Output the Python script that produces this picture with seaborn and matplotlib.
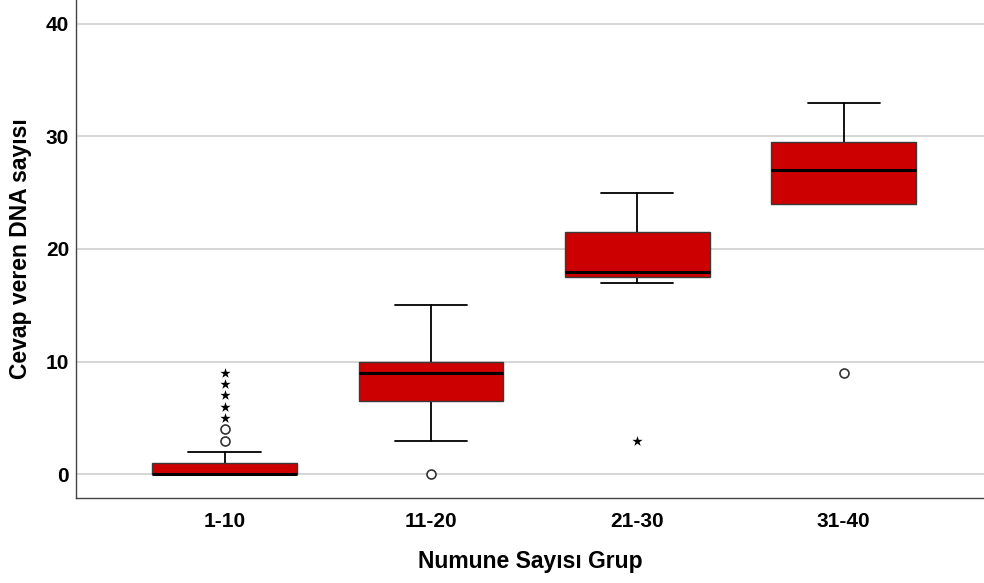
import matplotlib
matplotlib.use("Agg")
import matplotlib.pyplot as plt
import seaborn as sns
import numpy as np

groups = ["1-10", "11-20", "21-30", "31-40"]
q1 = [0, 6.5, 17.5, 24]
med = [0, 9, 18, 27]
q3 = [1, 10, 21.5, 29.5]
wlo = [0, 3, 17, 24]
whi = [2, 15, 25, 33]
# outliers (circles) and extremes (stars): (group index, value)
circ_g = [0, 0, 1, 3]
circ_v = [3, 4, 0, 9]
star_g = [0, 0, 0, 0, 0, 2]
star_v = [5, 6, 7, 8, 9, 3]

sns.set_theme(style="white")
plt.rcParams['font.family'] = ['Liberation Sans', 'DejaVu Sans']
plt.rcParams['text.color'] = 'black'
plt.rcParams['axes.labelcolor'] = 'black'
plt.rcParams['xtick.color'] = 'black'
plt.rcParams['ytick.color'] = 'black'

fig = plt.figure(figsize=(9.84, 5.83), dpi=100)
ax = fig.add_axes([76/984, 1-498/583, 1-76/984, 498/583])

stats = []
for i, g in enumerate(groups):
    stats.append(dict(label=g, q1=q1[i], med=med[i], q3=q3[i],
                      whislo=wlo[i], whishi=whi[i], fliers=[]))

ax.bxp(stats, positions=range(len(groups)), widths=0.70, patch_artist=True,
       showfliers=False,
       boxprops=dict(facecolor="#CC0000", edgecolor="#3a3a3a", linewidth=1.0, zorder=3),
       medianprops=dict(color="black", linewidth=2.2, zorder=4),
       whiskerprops=dict(color="black", linewidth=1.3, zorder=2),
       capprops=dict(color="black", linewidth=1.3, zorder=2),
       capwidths=0.35)

ax.scatter(circ_g, circ_v, s=42, facecolors="white", edgecolors="#333333",
           linewidths=1.2, zorder=5)
ax.scatter(star_g, star_v, s=60, marker="*", color="black", linewidths=0, zorder=5)

ax.set_xlim(-0.72, 3.68)
ax.set_ylim(-2.1, 42.1)
ax.set_yticks([0, 10, 20, 30, 40])
ax.set_xticks(range(len(groups)))
ax.set_xticklabels(groups)
ax.yaxis.grid(True, color="#d0d0d0", linewidth=1.2, zorder=0)
ax.xaxis.grid(False)
ax.set_axisbelow(True)
for s in ["top", "right"]:
    ax.spines[s].set_visible(False)
for s in ["left", "bottom"]:
    ax.spines[s].set_color("#444444")
    ax.spines[s].set_linewidth(1.0)
ax.tick_params(axis="both", length=0, labelsize=15)
ax.tick_params(axis="y", pad=5)
ax.tick_params(axis="x", pad=10)
for lbl in ax.get_xticklabels() + ax.get_yticklabels():
    lbl.set_fontweight("bold")
ax.set_xlabel("Numune Sayısı Grup", fontsize=16.5, fontweight="bold", labelpad=14)
ax.set_ylabel("Cevap veren DNA sayısı", fontsize=16.5, fontweight="bold", labelpad=10)

fig.savefig("out.png", dpi=100)
